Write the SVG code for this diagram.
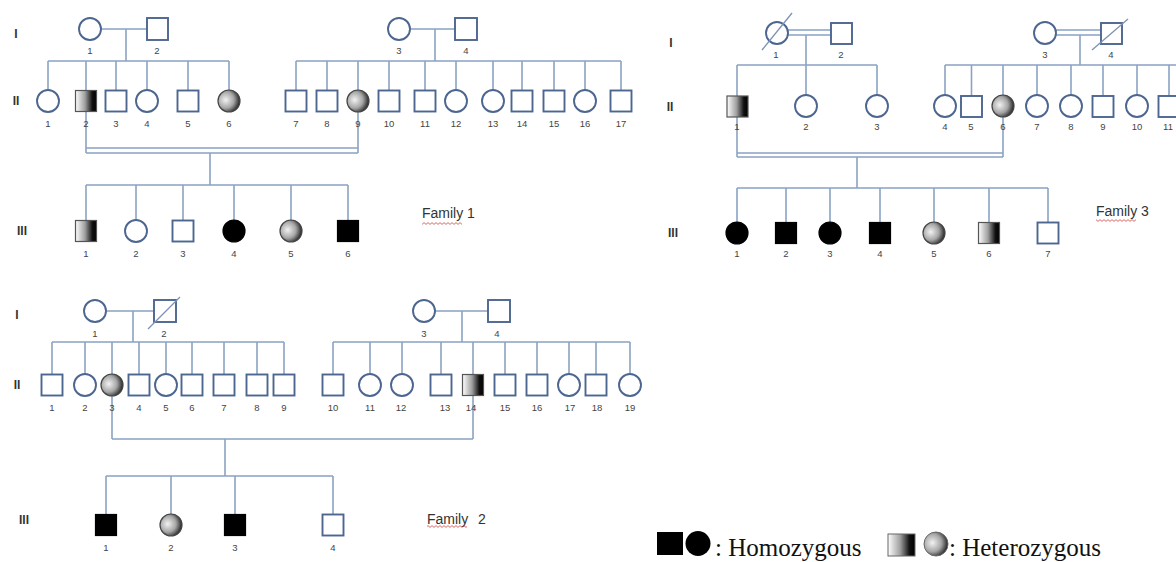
<svg xmlns="http://www.w3.org/2000/svg" width="1176" height="562" viewBox="0 0 1176 562">
<defs>
<linearGradient id="gsq" x1="0" y1="0" x2="1" y2="0">
<stop offset="0" stop-color="#ffffff"/><stop offset="0.45" stop-color="#a0a0a0"/><stop offset="0.8" stop-color="#111"/><stop offset="1" stop-color="#000"/>
</linearGradient>
<radialGradient id="gci" cx="0.35" cy="0.45" r="0.75">
<stop offset="0" stop-color="#f2f2f2"/><stop offset="0.5" stop-color="#a5a5a5"/><stop offset="0.85" stop-color="#2a2a2a"/><stop offset="1" stop-color="#000"/>
</radialGradient>
<pattern id="squig" width="4" height="3" patternUnits="userSpaceOnUse">
<path d="M0,0.6 L2,2.4 L4,0.6" fill="none" stroke="#d04040" stroke-width="0.8"/>
</pattern>
<style>
.ln{stroke:#8ba3c3;stroke-width:1.6;fill:none}
.sl{stroke:#7d93b3;stroke-width:1.3;fill:none}
.s{fill:#fff;stroke:#4d6690;stroke-width:1.9}
.h{fill:#000;stroke:#000;stroke-width:1.2}
.hs{fill:url(#gsq);stroke:#555;stroke-width:1.2}
.hc{fill:url(#gci);stroke:#444;stroke-width:1.2}
text{font-family:"Liberation Sans",Arial,sans-serif}
.n{font-size:9.5px;fill:#444;text-anchor:middle}
.g{font-size:12px;fill:#333;text-anchor:middle;font-weight:bold}
.f{font-size:14px;fill:#333}
.lg{font-family:"Liberation Serif","Times New Roman",serif;font-size:25px;fill:#111}
</style>
</defs>
<rect width="1176" height="562" fill="#fff"/>

<g id="connectors">
<path class="ln" d="M101,29 H147 M126,29 V61 M48,61 H229 M48,61 V90 M86,61 V90.5 M116,61 V90.5 M147,61 V90 M188,61 V90.5 M229,61 V90"/>
<path class="ln" d="M410,29 H455 M435,29 V61 M296,61 H621 M296,61 V90.5 M327,61 V90.5 M358,61 V90 M389,61 V90.5 M425,61 V90.5 M456,61 V90 M493,61 V90 M522,61 V90.5 M554,61 V90.5 M585,61 V90 M621,61 V90.5"/>
<path class="ln" d="M86,111.5 V153 M358,112 V153 M86,148 H358 M86,153 H358 M210,153 V185 M86,185 H348 M86,185 V220.5 M136,185 V220 M183,185 V220.5 M234,185 V220 M291,185 V220 M348,185 V220.5"/>
<path class="ln" d="M788,30 H831 M788,35 H831 M806,35 V65 M737,65 H877 M737,65 V96 M806,65 V95 M877,65 V95"/>
<path class="ln" d="M1056,30 H1101 M1056,35 H1101 M1080,35 V65 M945,65 H1176 M945,65 V95 M971.5,65 V96 M1003,65 V95 M1037,65 V95 M1071,65 V95 M1103,65 V96 M1137,65 V95 M1169,65 V96"/>
<path class="ln" d="M737,117 V157 M1003,117 V157 M737,153 H1003 M737,157 H1003 M857,157 V188 M737,188 H1048 M737,188 V222 M786,188 V222.5 M830,188 V222 M880,188 V222.5 M934,188 V222 M989,188 V222.5 M1048,188 V222.5"/>
<path class="ln" d="M106,311 H154 M133,311 V342 M52,342 H284 M52,342 V374.5 M85,342 V374 M112,342 V374 M139,342 V374.5 M166,342 V374 M192,342 V374.5 M224,342 V374.5 M257,342 V374.5 M284,342 V374.5"/>
<path class="ln" d="M435,311 H488 M462,311 V342 M333,342 H630 M333,342 V374.5 M370,342 V374 M402,342 V374 M441,342 V374.5 M473,342 V374.5 M505,342 V374.5 M537,342 V374.5 M569,342 V374 M596,342 V374.5 M630,342 V374"/>
<path class="ln" d="M112,396 V439 M473,395.5 V439 M112,439 H473 M225,439 V476 M106,476 H333 M106,476 V514.5 M171,476 V514 M235,476 V514.5 M333,476 V514.5"/>
</g>

<g id="gen-labels">
<text class="g" x="16" y="38">I</text>
<text class="g" x="16" y="105">II</text>
<text class="g" x="22" y="235">III</text>
<text class="g" x="671" y="47">I</text>
<text class="g" x="670" y="111">II</text>
<text class="g" x="673" y="237">III</text>
<text class="g" x="17" y="319">I</text>
<text class="g" x="17" y="389">II</text>
<text class="g" x="24" y="524">III</text>
</g>

<g id="f1-I1"><circle class="s" cx="90" cy="29" r="11"/><text class="n" x="90" y="54">1</text></g>
<g id="f1-I2"><rect class="s" x="147" y="18" width="21" height="22"/><text class="n" x="157" y="54">2</text></g>
<g id="f1-I3"><circle class="s" cx="399" cy="29" r="11"/><text class="n" x="399" y="54">3</text></g>
<g id="f1-I4"><rect class="s" x="455" y="18" width="22" height="22"/><text class="n" x="466" y="54">4</text></g>
<g id="f1-II1"><circle class="s" cx="48" cy="101" r="11"/><text class="n" x="48" y="127">1</text></g>
<g id="f1-II2"><rect class="hs" x="75.5" y="90.5" width="21" height="21"/><text class="n" x="86" y="127">2</text></g>
<g id="f1-II3"><rect class="s" x="105.5" y="90.5" width="21" height="21"/><text class="n" x="116" y="127">3</text></g>
<g id="f1-II4"><circle class="s" cx="147" cy="101" r="11"/><text class="n" x="147" y="127">4</text></g>
<g id="f1-II5"><rect class="s" x="177.5" y="90.5" width="21" height="21"/><text class="n" x="188" y="127">5</text></g>
<g id="f1-II6"><circle class="hc" cx="229" cy="101" r="11"/><text class="n" x="229" y="127">6</text></g>
<g id="f1-II7"><rect class="s" x="285.5" y="90.5" width="21" height="21"/><text class="n" x="296" y="127">7</text></g>
<g id="f1-II8"><rect class="s" x="316.5" y="90.5" width="21" height="21"/><text class="n" x="327" y="127">8</text></g>
<g id="f1-II9"><circle class="hc" cx="358" cy="101" r="11"/><text class="n" x="358" y="127">9</text></g>
<g id="f1-II10"><rect class="s" x="378.5" y="90.5" width="21" height="21"/><text class="n" x="389" y="127">10</text></g>
<g id="f1-II11"><rect class="s" x="414.5" y="90.5" width="21" height="21"/><text class="n" x="425" y="127">11</text></g>
<g id="f1-II12"><circle class="s" cx="456" cy="101" r="11"/><text class="n" x="456" y="127">12</text></g>
<g id="f1-II13"><circle class="s" cx="493" cy="101" r="11"/><text class="n" x="493" y="127">13</text></g>
<g id="f1-II14"><rect class="s" x="511.5" y="90.5" width="21" height="21"/><text class="n" x="522" y="127">14</text></g>
<g id="f1-II15"><rect class="s" x="543.5" y="90.5" width="21" height="21"/><text class="n" x="554" y="127">15</text></g>
<g id="f1-II16"><circle class="s" cx="585" cy="101" r="11"/><text class="n" x="585" y="127">16</text></g>
<g id="f1-II17"><rect class="s" x="610.5" y="90.5" width="21" height="21"/><text class="n" x="621" y="127">17</text></g>
<g id="f1-III1"><rect class="hs" x="75.5" y="220.5" width="21" height="21"/><text class="n" x="86" y="257">1</text></g>
<g id="f1-III2"><circle class="s" cx="136" cy="231" r="11"/><text class="n" x="136" y="257">2</text></g>
<g id="f1-III3"><rect class="s" x="172.5" y="220.5" width="21" height="21"/><text class="n" x="183" y="257">3</text></g>
<g id="f1-III4"><circle class="h" cx="234" cy="231" r="11"/><text class="n" x="234" y="257">4</text></g>
<g id="f1-III5"><circle class="hc" cx="291" cy="231" r="11"/><text class="n" x="291" y="257">5</text></g>
<g id="f1-III6"><rect class="h" x="337.5" y="220.5" width="21" height="21"/><text class="n" x="348" y="257">6</text></g>
<g id="f1-label"><text class="f" x="422" y="218">Family 1</text><rect x="422" y="222" width="40" height="3" fill="url(#squig)"/></g>

<g id="f3-I1"><circle class="s" cx="777" cy="33" r="11"/><line class="sl" x1="762" y1="50" x2="792" y2="13"/><text class="n" x="776" y="58">1</text></g>
<g id="f3-I2"><rect class="s" x="831" y="23" width="21" height="21"/><text class="n" x="841" y="58">2</text></g>
<g id="f3-I3"><circle class="s" cx="1045" cy="33" r="11"/><text class="n" x="1045" y="58">3</text></g>
<g id="f3-I4"><rect class="s" x="1101" y="23" width="21" height="21"/><line class="sl" x1="1092" y1="50" x2="1128" y2="19"/><text class="n" x="1111" y="58">4</text></g>
<g id="f3-II1"><rect class="hs" x="727" y="96" width="21" height="21"/><text class="n" x="737" y="130">1</text></g>
<g id="f3-II2"><circle class="s" cx="806" cy="106" r="11"/><text class="n" x="806" y="130">2</text></g>
<g id="f3-II3"><circle class="s" cx="877" cy="106" r="11"/><text class="n" x="877" y="130">3</text></g>
<g id="f3-II4"><circle class="s" cx="945" cy="106" r="11"/><text class="n" x="945" y="130">4</text></g>
<g id="f3-II5"><rect class="s" x="961" y="96" width="21" height="21"/><text class="n" x="971" y="130">5</text></g>
<g id="f3-II6"><circle class="hc" cx="1003" cy="106" r="11"/><text class="n" x="1003" y="130">6</text></g>
<g id="f3-II7"><circle class="s" cx="1037" cy="106" r="11"/><text class="n" x="1037" y="130">7</text></g>
<g id="f3-II8"><circle class="s" cx="1071" cy="106" r="11"/><text class="n" x="1071" y="130">8</text></g>
<g id="f3-II9"><rect class="s" x="1092.5" y="96" width="21" height="21"/><text class="n" x="1103" y="130">9</text></g>
<g id="f3-II10"><circle class="s" cx="1137" cy="106" r="11"/><text class="n" x="1137" y="130">10</text></g>
<g id="f3-II11"><rect class="s" x="1158.5" y="96" width="21" height="21"/><text class="n" x="1168" y="130">11</text></g>
<g id="f3-III1"><circle class="h" cx="737" cy="233" r="11"/><text class="n" x="737" y="257">1</text></g>
<g id="f3-III2"><rect class="h" x="775.5" y="222.5" width="21" height="21"/><text class="n" x="786" y="257">2</text></g>
<g id="f3-III3"><circle class="h" cx="830" cy="233" r="11"/><text class="n" x="830" y="257">3</text></g>
<g id="f3-III4"><rect class="h" x="869.5" y="222.5" width="21" height="21"/><text class="n" x="880" y="257">4</text></g>
<g id="f3-III5"><circle class="hc" cx="934" cy="233" r="11"/><text class="n" x="934" y="257">5</text></g>
<g id="f3-III6"><rect class="hs" x="978.5" y="222.5" width="21" height="21"/><text class="n" x="989" y="257">6</text></g>
<g id="f3-III7"><rect class="s" x="1037.5" y="222.5" width="21" height="21"/><text class="n" x="1048" y="257">7</text></g>
<g id="f3-label"><text class="f" x="1096" y="216">Family 3</text><rect x="1096" y="219" width="40" height="3" fill="url(#squig)"/></g>

<g id="f2-I1"><circle class="s" cx="95" cy="311" r="11"/><text class="n" x="95" y="337">1</text></g>
<g id="f2-I2"><rect class="s" x="154" y="300" width="22" height="22"/><line class="sl" x1="148" y1="329" x2="180" y2="297"/><text class="n" x="164" y="337">2</text></g>
<g id="f2-I3"><circle class="s" cx="424" cy="311" r="11"/><text class="n" x="424" y="337">3</text></g>
<g id="f2-I4"><rect class="s" x="488" y="300" width="22" height="22"/><text class="n" x="497" y="337">4</text></g>
<g id="f2-II1"><rect class="s" x="41.5" y="374.5" width="21" height="21"/><text class="n" x="52" y="411">1</text></g>
<g id="f2-II2"><circle class="s" cx="85" cy="385" r="11"/><text class="n" x="85" y="411">2</text></g>
<g id="f2-II3"><circle class="hc" cx="112" cy="385" r="11"/><text class="n" x="112" y="411">3</text></g>
<g id="f2-II4"><rect class="s" x="128.5" y="374.5" width="21" height="21"/><text class="n" x="139" y="411">4</text></g>
<g id="f2-II5"><circle class="s" cx="166" cy="385" r="11"/><text class="n" x="166" y="411">5</text></g>
<g id="f2-II6"><rect class="s" x="181.5" y="374.5" width="21" height="21"/><text class="n" x="192" y="411">6</text></g>
<g id="f2-II7"><rect class="s" x="213.5" y="374.5" width="21" height="21"/><text class="n" x="224" y="411">7</text></g>
<g id="f2-II8"><rect class="s" x="246.5" y="374.5" width="21" height="21"/><text class="n" x="257" y="411">8</text></g>
<g id="f2-II9"><rect class="s" x="273.5" y="374.5" width="21" height="21"/><text class="n" x="284" y="411">9</text></g>
<g id="f2-II10"><rect class="s" x="322.5" y="374.5" width="21" height="21"/><text class="n" x="333" y="411">10</text></g>
<g id="f2-II11"><circle class="s" cx="370" cy="385" r="11"/><text class="n" x="370" y="411">11</text></g>
<g id="f2-II12"><circle class="s" cx="402" cy="385" r="11"/><text class="n" x="401" y="411">12</text></g>
<g id="f2-II13"><rect class="s" x="430.5" y="374.5" width="21" height="21"/><text class="n" x="445" y="411">13</text></g>
<g id="f2-II14"><rect class="hs" x="462.5" y="374.5" width="21" height="21"/><text class="n" x="471" y="411">14</text></g>
<g id="f2-II15"><rect class="s" x="494.5" y="374.5" width="21" height="21"/><text class="n" x="505" y="411">15</text></g>
<g id="f2-II16"><rect class="s" x="526.5" y="374.5" width="21" height="21"/><text class="n" x="537" y="411">16</text></g>
<g id="f2-II17"><circle class="s" cx="569" cy="385" r="11"/><text class="n" x="570" y="411">17</text></g>
<g id="f2-II18"><rect class="s" x="585.5" y="374.5" width="21" height="21"/><text class="n" x="597" y="411">18</text></g>
<g id="f2-II19"><circle class="s" cx="630" cy="385" r="11"/><text class="n" x="630" y="411">19</text></g>
<g id="f2-III1"><rect class="h" x="95.5" y="514.5" width="21" height="21"/><text class="n" x="106" y="551">1</text></g>
<g id="f2-III2"><circle class="hc" cx="171" cy="525" r="11"/><text class="n" x="171" y="551">2</text></g>
<g id="f2-III3"><rect class="h" x="224.5" y="514.5" width="21" height="21"/><text class="n" x="235" y="551">3</text></g>
<g id="f2-III4"><rect class="s" x="322.5" y="514.5" width="21" height="21"/><text class="n" x="333" y="551">4</text></g>
<g id="f2-label"><text class="f" x="427" y="524" word-spacing="6">Family 2</text><rect x="427" y="525" width="40" height="3" fill="url(#squig)"/></g>

<g id="legend-homozygous">
<rect x="657" y="532" width="26" height="23" fill="#000"/>
<circle cx="698" cy="543.5" r="12.5" fill="#000"/>
<text class="lg" x="715" y="556">: Homozygous</text>
</g>
<g id="legend-heterozygous">
<rect x="888" y="534" width="27" height="22" fill="url(#gsq)" stroke="#666" stroke-width="1"/>
<circle cx="936" cy="544" r="12" fill="url(#gci)" stroke="#666" stroke-width="1"/>
<text class="lg" x="949" y="556">: Heterozygous</text>
</g>
</svg>
